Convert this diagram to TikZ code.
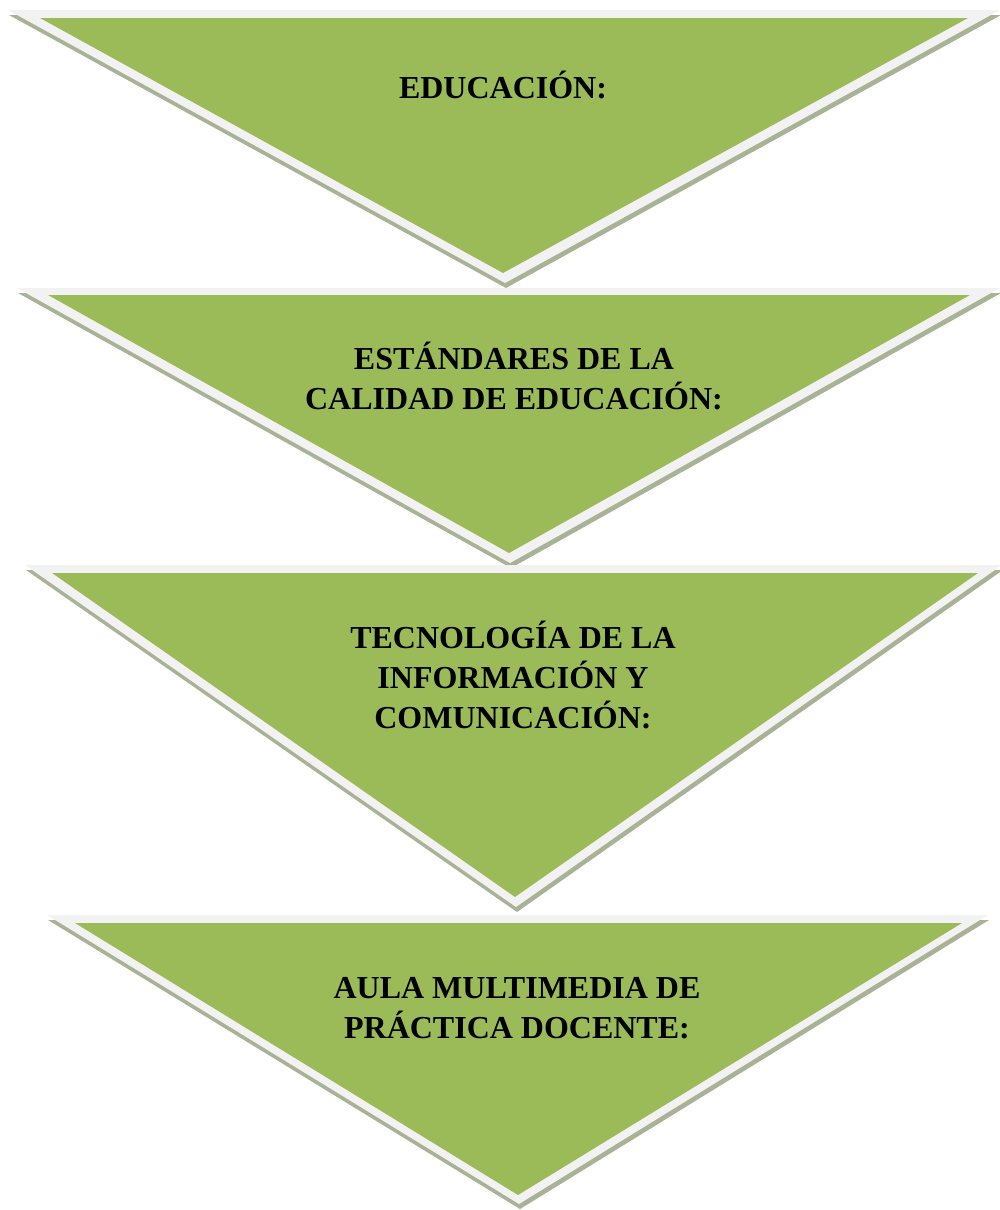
\documentclass[tikz,border=0pt]{standalone}
\usepackage{fontspec}
\setmainfont{Liberation Serif}
\definecolor{tgreen}{HTML}{9BBB59}
\definecolor{tlight}{HTML}{F2F2F2}
\definecolor{tshadow}{HTML}{A7B394}
\begin{document}
\begin{tikzpicture}[x=1pt,y=-1pt,
  shad/.style={fill=tshadow,draw=none},
  band/.style={fill=tlight,draw=none},
  body/.style={fill=tgreen,draw=none},
  lab/.style={align=center,font=\fontsize{32}{40}\selectfont\bfseries,inner sep=0pt,text=black}]
\useasboundingbox (0,0) rectangle (1000,1210);
% triangle 1
\fill[shad,shift={(1,5)}] (8,10) -- (1000,10) -- (505,283) -- cycle;
\fill[band] (8,10) -- (1000,10) -- (505,283) -- cycle;
\fill[body] (40,18) -- (968,18) -- (503,273) -- cycle;
% triangle 2
\fill[shad,shift={(1,5)}] (17,288) -- (1000,288) -- (510,563) -- cycle;
\fill[band] (17,288) -- (1000,288) -- (510,563) -- cycle;
\fill[body] (48,295) -- (970,295) -- (509,553) -- cycle;
% triangle 3
\fill[shad,shift={(1,5)}] (25,565) -- (1002,565) -- (516,907) -- cycle;
\fill[band] (25,565) -- (1002,565) -- (516,907) -- cycle;
\fill[body] (52,573) -- (978,573) -- (515,897) -- cycle;
% triangle 4
\fill[shad,shift={(1,5)}] (47,915) -- (988,915) -- (519,1204) -- cycle;
\fill[band] (47,915) -- (988,915) -- (519,1204) -- cycle;
\fill[body] (75,923) -- (962,923) -- (518,1195) -- cycle;
% labels
\node[lab] (l1) at (503,85) {EDUCACIÓN:};
\node[lab] (l2) at (514,376) {ESTÁNDARES DE LA\\CALIDAD DE EDUCACIÓN:};
\node[lab] (l3) at (513,675) {TECNOLOGÍA DE LA\\INFORMACIÓN Y\\COMUNICACIÓN:};
\node[lab] (l4) at (517,1008) {AULA MULTIMEDIA DE\\PRÁCTICA DOCENTE:};
\end{tikzpicture}
\end{document}
